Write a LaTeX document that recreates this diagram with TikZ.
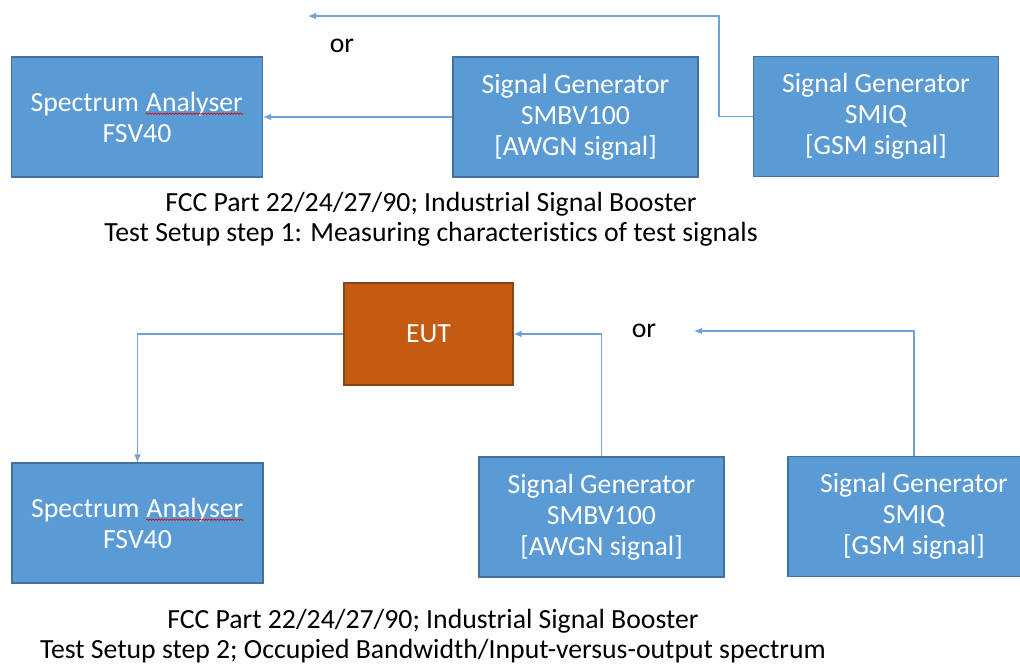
\documentclass[tikz,border=0pt]{standalone}
\usepackage{fontspec}
\setmainfont{Carlito}[Ligatures=NoCommon]
\usetikzlibrary{arrows.meta,decorations.pathmorphing}

\definecolor{boxblue}{HTML}{5B9BD5}
\definecolor{boxedge}{HTML}{41719C}
\definecolor{eutfill}{HTML}{C55A11}
\definecolor{eutedge}{HTML}{8A4516}
\definecolor{wirecol}{HTML}{6FA3D8}

\newcommand{\spellwave}[1]{\tikz[baseline=(sw.base)]{\node[inner sep=0pt,minimum size=0pt,draw=none,fill=none,text=white] (sw) {#1};
	\draw[red!85!black,line width=0.5pt,decorate,decoration={snake,amplitude=0.5pt,segment length=2.2pt}] ([yshift=-2pt]sw.base west) -- ([yshift=-2pt]sw.base east);}}

\begin{document}
\begin{tikzpicture}[x=0.75pt,y=-0.75pt,
		device/.style={draw=boxedge,fill=boxblue,line width=0.8pt,text=white,align=center,
			inner sep=0pt,font=\fontsize{20.8}{23.25}\selectfont},
		analyser/.style={device,minimum width=188.25pt,minimum height=90pt},
		generator/.style={device,minimum width=183.75pt,minimum height=90pt},
		eutbox/.style={device,draw=eutedge,fill=eutfill,minimum width=126.75pt,minimum height=76.5pt},
		wire/.style={draw=wirecol,line width=0.8pt,-{Latex[length=6pt,width=5pt]}},
		ortext/.style={font=\fontsize{20.8}{23.25}\selectfont},
		caption/.style={align=center,font=\fontsize{20.8}{22.5}\selectfont}]
				\useasboundingbox (0,0) rectangle (1020,669);
				\node[analyser] (sa1) at (137,117) {Spectrum \spellwave{Analyser}\\FSV40};
				\node[generator] (sg1) at (575.5,117) {Signal Generator\\SMBV100\\{[AWGN signal]}};
				\node[generator] (smiq1) at (876,116.5) {Signal Generator\\SMIQ\\{[GSM signal]}};
				\coordinate (or1end) at (308,16);
				\node[ortext] (or1) at (342,46) {or};
				\draw[wire] (sg1.west) -- (sa1.east);
				\draw[wire] (smiq1.west) -- ++(-34,0) |- (or1end);
				\node[caption] (cap1) at (431,219) {FCC Part 22/24/27/90; Industrial Signal Booster\\Test Setup step 1: Measuring characteristics of test signals};
				\node[eutbox] (eut) at (428.5,334) {EUT};
				\node[analyser] (sa2) at (137.5,523) {Spectrum \spellwave{Analyser}\\FSV40};
				\node[generator] (sg3) at (601.5,517) {Signal Generator\\SMBV100\\{[AWGN signal]}};
				\node[generator,minimum width=189pt] (smiq2) at (914,516.5) {Signal Generator\\SMIQ\\{[GSM signal]}};
				\coordinate (or2end) at (694,331);
				\node[ortext] (or2) at (644,331) {or};
				\draw[wire] (eut.west) -| (sa2.north);
				\draw[wire] (sg3.north) |- (eut.east);
				\draw[wire] (smiq2.north) |- (or2end);
				\node[caption] (cap2) at (433,636) {FCC Part 22/24/27/90; Industrial Signal Booster\\Test Setup step 2; Occupied Bandwidth/Input-versus-output spectrum};
			\end{tikzpicture}
\end{document}
